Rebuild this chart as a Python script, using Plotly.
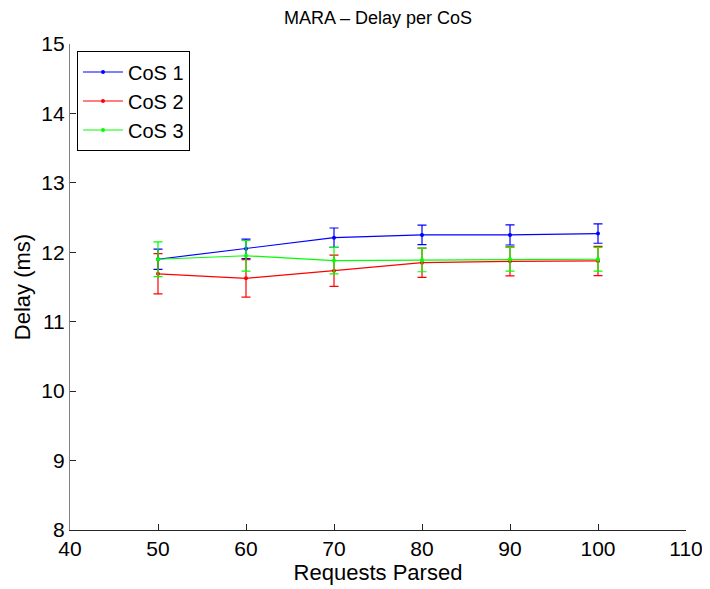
import plotly.graph_objects as go

requests = [50, 60, 70, 80, 90, 100]
cos1 = [11.90, 12.05, 12.21, 12.25, 12.25, 12.27]
cos1_err = [0.145, 0.14, 0.14, 0.14, 0.145, 0.14]
cos2 = [11.69, 11.625, 11.735, 11.85, 11.87, 11.875]
cos2_err = [0.29, 0.27, 0.225, 0.21, 0.21, 0.21]
cos3 = [11.90, 11.95, 11.88, 11.89, 11.90, 11.90]
cos3_err = [0.25, 0.22, 0.19, 0.17, 0.17, 0.17]

names = ["CoS 1", "CoS 2", "CoS 3"]
colors = ["#0000ff", "#ff0000", "#00ff00"]
series = [(cos1, cos1_err), (cos2, cos2_err), (cos3, cos3_err)]

fig = go.Figure()
for name, color, (vals, errs) in zip(names, colors, series):
    fig.add_trace(go.Scatter(
        x=requests, y=vals, name=name, mode="lines+markers",
        line=dict(color=color, width=1.2),
        marker=dict(color=color, size=4),
        error_y=dict(type="data", array=errs, visible=True, color=color,
                     thickness=1.2, width=4.5),
    ))

font = "Liberation Sans, Arial, Helvetica, sans-serif"
# page body has an 8px default margin, so the figure is sized/offset to compensate
fig.update_layout(
    width=702, height=581,
    margin=dict(l=62, r=24, t=36, b=59, autoexpand=False),
    paper_bgcolor="white", plot_bgcolor="white",
    font=dict(family=font, size=21, color="black"),
    title=dict(text="MARA \u2013 Delay per CoS", x=0.5, xref="paper", y=0.995,
               yanchor="top", font=dict(size=18, color="black")),
    showlegend=True,
    legend=dict(x=0.011, y=0.985, xanchor="left", yanchor="top",
                bgcolor="white", bordercolor="black", borderwidth=1.2,
                font=dict(size=20), tracegroupgap=0, itemwidth=40),
    xaxis=dict(range=[40, 110], tickvals=[40, 50, 60, 70, 80, 90, 100, 110],
               ticks="inside", ticklen=6, tickcolor="#262626",
               showline=True, linecolor="#262626", linewidth=1.2,
               showgrid=False, zeroline=False, mirror=False, automargin=False,
               title=dict(text="Requests Parsed", font=dict(size=22), standoff=0),
               tickfont=dict(size=21)),
    yaxis=dict(range=[8, 15], tickvals=[8, 9, 10, 11, 12, 13, 14, 15],
               ticks="inside", ticklen=6, tickcolor="#262626",
               showline=True, linecolor="#808080", linewidth=1.2,
               showgrid=False, zeroline=False, mirror=False, automargin=False,
               title=dict(text="Delay (ms)", font=dict(size=22), standoff=4),
               tickfont=dict(size=21)),
)

fig.write_html("out.html")
